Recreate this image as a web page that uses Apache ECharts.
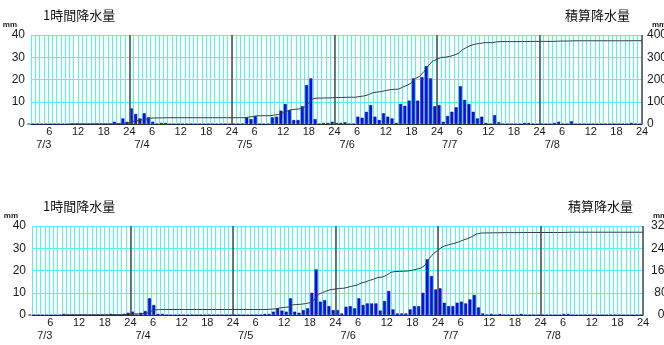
<!DOCTYPE html>
<html><head><meta charset="utf-8">
<script src="https://cdn.jsdelivr.net/npm/echarts@6/dist/echarts.min.js"></script>
<style>html,body{margin:0;padding:0;background:#fff}#c{width:664px;height:345px}</style>
</head><body><div id="c"></div>
<script>
// ---- data ----
const dateLabels = ['7/3','7/4','7/5','7/6','7/7','7/8'];
const hourLabels = ['6','12','18','24'];
const leftTicks = [0, 40, 10];          // min, max, step (mm)
const rightTicksTop = [0, 400, 100];    // min, max, step (mm)
const rightTicksBottom = [0, 320, 80];  // min, max, step (mm)
const dayEnds = [24, 48, 72, 96, 120, 144];

// hourly precipitation, hour 1..144 (7/3 1h .. 7/8 24h)
const rainTop = [
  0,0,0,0,0,0,0,0,0,0, 0,0,0,0,0,0,0,0,0,0, 1,0,2.5,1,
  7,4.5,2.5,4.8,3,1,0,0.5,0.5,0, 0,0,0,0,0,0,0,0,0,0, 0,0,0,0,
  0,0,0,3,2.2,3.6,0,0,0,3, 3.3,6,9,6.3,1.8,1.8,8,17.5,20.5,2.2, 0,0.5,0.5,1,
  0.5,0.5,0.8,0,0,3.3,2.8,5.5,8.5,3.3, 1.8,4.8,3.3,2.5,0.5,9,8.2,10.5,20.5,10.5, 21,26,20.5,8,
  8.5,1,3.6,5.5,7.5,17,10.8,9,5.5,2.5, 3.3,0.5,0,4,0.8,0,0,0,0,0, 0.5,0.5,0,0,
  0,0,0,0.5,1,0,0,1.2,0,0, 0,0,0,0,0,0,0,0,0,0, 0,0.5,0,0
];
// cumulative precipitation at end of each hour
const cumTop = [
  null,null,null,null,null,null,null,null,null, 0,0,0,0,0,0,0,0,0,0,0, 1,1,3.5,4.5,
  11.5,16,18.5,23.3,26.3,27.3,27.3,27.8,28.3, 28.3,28.3,28.3,28.3,28.3,28.3,28.3,28.3,28.3,28.3,28.3,28.3,28.3,28.3,28.3,
  28.3,28.3,28.3,31.3,33.5,37.1,37.1,37.1,37.1,40.1, 43.4,49.4,58.4,64.7,66.5,68.3,76.3,93.8,114.3,116.5, 116.5,117,117.5,118.5,
  119,119.5,120.3,120.3,120.3,123.6,126.4,131.9,140.4,143.7, 145.5,150.3,153.6,156.1,156.6,165.6,173.8,184.3,204.8,215.3, 236.3,262.3,282.8,290.8,
  299.3,300.3,303.9,309.4,316.9,333.9,344.7,353.7,359.2,361.7, 365,365.5,365.5,369.5,370.3,370.3,370.3,370.3,370.3,370.3, 370.8,371.3,371.3,371.3,
  371.3,371.3,371.3,371.8,372.8,372.8,372.8,374, 374,374,374,374,374,374,374,374,374,374,374,374,374, 374.5,374.5,374.5
];
const rainBottom = [
  0,0,0,0,0,0,0,0,0.5,0, 0,0,0,0,0,0,0,0,0,0.5, 0,0,0.5,1,
  1.5,0,1,1.8,7.5,4.5,0.5,0.5,0,0, 0,0,0,0,0,0,0,0,0,0, 0,0,0,0,
  0,0,0,0,0,0,0,0.5,0.5,1.5, 3,2,1.5,7.5,1.5,1,2.2,3,10,20.5, 6,6.7,4,2.2,
  2.2,0.7,3.7,4,3,7.5,4.5,5.2,5.2,5.2, 2,6.3,10.8,2.5,0.7,0.7,0.7,2.5,4,4, 10,25,17.5,11.5,
  12,5.5,4,4,5.5,6,5.2,7,9,3.4, 0.7,0,0.5,0,0.5,0,0,0,0,0.5, 0,0,0,0,
  0,0,0,0,0,0.5,0.5,0,0,0, 0,0,0,0,0,0,0,0,0,0, 0,0,0,0
];
const cumBottom = [
  null,null,null,null,null,null,null, 0,0.5, 0.5,0.5,0.5,0.5,0.5,0.5,0.5,0.5,0.5,0.5, 1,1,1,1.5,2.5,
  4,4,5,6.8,14.3,18.8,19.3,19.8, 19.8,19.8,19.8,19.8,19.8,19.8,19.8,19.8,19.8,19.8,19.8,19.8,19.8,19.8,19.8,19.8,
  19.8,19.8,19.8,19.8,19.8,19.8,19.8, 20.3,20.8,22.3,25.3,27.3,28.8,36.3,37.8,38.8,41,44,54,74.5,80.5,87.2,91.2,93.4,
  95.6,96.3,100,104,107,114.5,119,124.2,129.4,134.6, 136.6,142.9,153.7,156.2,156.9,157.6,158.3,160.8,164.8,168.8, 178.8,203.8,221.3,232.8,
  244.8,250.3,254.3,258.3,263.8,269.8,275,282,291,294.4, 295.1,295.1,295.6,295.6,296.1,296.1,296.1,296.1,296.1,296.6, 296.6,296.6,296.6,296.6,
  296.6,296.6,296.6,296.6,296.6, 297.1, 297.6,297.6,297.6,297.6,297.6,297.6,297.6,297.6,297.6,297.6,297.6,297.6,297.6,297.6,297.6,297.6,297.6,297.6
];

// ---- chart ----
const FONT = 'Liberation Sans';
const CJK = 'Noto Sans CJK JP';
const CYAN = '#55f2f2';
const TXT = '#1a1a1a';

function hourAxis(gridIndex) {
  return {
    type: 'value', gridIndex, min: 1, max: 144, interval: 1,
    axisLine: { show: true, onZero: false, lineStyle: { color: '#333', width: 1 } },
    axisTick: { show: false },
    splitLine: { show: true, lineStyle: { color: CYAN, width: 1 } },
    axisLabel: {
      show: true, margin: 2, hideOverlap: false, showMinLabel: true, showMaxLabel: true,
      formatter: v => (v % 6 === 0) ? '{h|' + hourLabels[(((v - 1) % 24) + 1) / 6 - 1] + '}' : '',
      rich: { h: { width: 12, align: 'left', fontSize: 11, fontFamily: FONT, color: TXT } }
    }
  };
}
function dateAxis(gridIndex) {
  return {
    type: 'value', gridIndex, min: 1, max: 144, interval: 1, position: 'bottom', offset: 13,
    axisLine: { show: false }, axisTick: { show: false }, splitLine: { show: false },
    axisLabel: {
      show: true, margin: 2, hideOverlap: false, fontSize: 11, fontFamily: FONT, color: TXT,
      formatter: v => {
        const d = Math.floor((v - 1) / 24), hd = ((v - 1) % 24) + 1;
        return (d === 0 ? hd === 4 : hd === 3) ? dateLabels[d] : '';
      }
    }
  };
}
function leftAxis(gridIndex) {
  return {
    type: 'value', gridIndex, position: 'left', min: leftTicks[0], max: leftTicks[1], interval: leftTicks[2],
    name: 'mm', nameGap: 6,
    nameTextStyle: { fontSize: 8, fontWeight: 'bold', fontFamily: FONT, color: TXT, align: 'right', padding: [0, 14, 0, 0] },
    axisLine: { show: false }, axisTick: { show: false },
    splitLine: { show: true, lineStyle: { color: CYAN, width: 1 } },
    axisLabel: { margin: 6, fontSize: 12, fontFamily: FONT, color: TXT }
  };
}
function rightAxis(gridIndex, t, boxWidth, boxAlign) {
  const r = { align: boxAlign, fontSize: 12, fontFamily: FONT, color: TXT };
  if (boxWidth) r.width = boxWidth;
  return {
    type: 'value', gridIndex, position: 'right', min: t[0], max: t[1], interval: t[2],
    name: 'mm', nameGap: 6,
    nameTextStyle: { fontSize: 8, fontWeight: 'bold', fontFamily: FONT, color: TXT, align: 'left', padding: [0, 0, 0, 10] },
    axisLine: { show: false }, axisTick: { show: false }, splitLine: { show: false },
    axisLabel: {
      margin: 5, align: 'left', hideOverlap: false,
      formatter: v => '{r|' + v + '}',
      rich: { r }
    }
  };
}
function barSeries(xi, yi, data) {
  return {
    type: 'bar', xAxisIndex: xi, yAxisIndex: yi, barWidth: 3,
    data: data.map((v, i) => [i + 0.5, v]),
    itemStyle: { color: '#0b12f0', borderColor: '#00008a', borderWidth: 0.5 },
    markLine: {
      silent: true, symbol: 'none', label: { show: false },
      lineStyle: { color: '#555', width: 1.6, type: 'solid' },
      data: dayEnds.map(d => ({ xAxis: d }))
    }
  };
}
function lineSeries(xi, yi, data) {
  return {
    type: 'line', xAxisIndex: xi, yAxisIndex: yi, showSymbol: false, symbol: 'none',
    connectNulls: false, z: 5,
    lineStyle: { color: '#3a3a3a', width: 1 },
    data: data.map((v, i) => [i + 1, v])
  };
}
const titleStyle = { fontSize: 13, fontWeight: 'normal', fontFamily: CJK, color: '#111' };

const chart = echarts.init(document.getElementById('c'), null, { renderer: 'canvas' });
chart.setOption({
  animation: false,
  backgroundColor: '#fff',
  title: [
    { text: '1時間降水量', left: 43, top: 9, padding: 0, textStyle: titleStyle },
    { text: '積算降水量', left: 565, top: 9, padding: 0, textStyle: titleStyle },
    { text: '1時間降水量', left: 43, top: 200, padding: 0, textStyle: titleStyle },
    { text: '積算降水量', left: 568, top: 200, padding: 0, textStyle: titleStyle }
  ],
  grid: [
    { left: 31, right: 22, top: 35, height: 89, containLabel: false, outerBoundsMode: 'none' },
    { left: 32, right: 21, top: 226, height: 89, containLabel: false, outerBoundsMode: 'none' }
  ],
  xAxis: [hourAxis(0), dateAxis(0), hourAxis(1), dateAxis(1)],
  yAxis: [
    leftAxis(0), rightAxis(0, rightTicksTop, 0, 'left'),
    leftAxis(1), rightAxis(1, rightTicksBottom, 26, 'center')
  ],
  series: [
    barSeries(0, 0, rainTop), lineSeries(0, 1, cumTop),
    barSeries(2, 2, rainBottom), lineSeries(2, 3, cumBottom)
  ]
});
</script>
</body></html>
